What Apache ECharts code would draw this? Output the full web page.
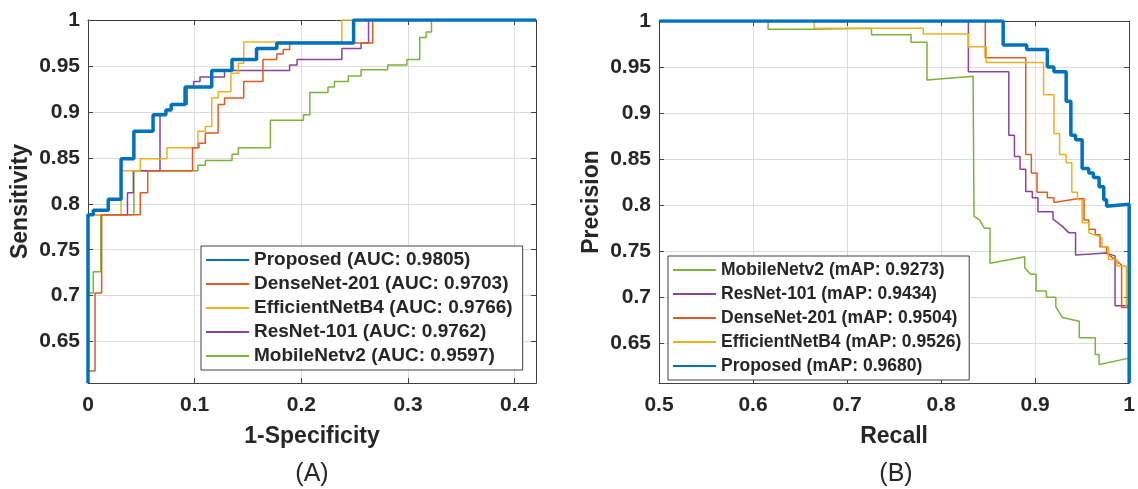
<!DOCTYPE html>
<html>
<head>
<meta charset="UTF-8">
<title>ROC / PR curves</title>
<script src="https://cdn.jsdelivr.net/npm/echarts@6/dist/echarts.min.js"></script>
<style>
  html, body { margin: 0; padding: 0; background: #fff; }
  #main { width: 1138px; height: 489px; }
</style>
</head>
<body>
<div id="main"></div>
<script>
// (A) ROC curves: 1-Specificity / Sensitivity, step corners
var rocXTicks = [0, 0.1, 0.2, 0.3, 0.4];
var rocYTicks = [0.65, 0.7, 0.75, 0.8, 0.85, 0.9, 0.95, 1];

var propFpr  = [0, 0, 0.005, 0.019, 0.031, 0.043, 0.061, 0.073, 0.078, 0.091, 0.116, 0.135, 0.158, 0.177, 0.249, 0.42];
var propTpr  = [0.605, 0.788, 0.793, 0.805, 0.849, 0.879, 0.897, 0.902, 0.908, 0.927, 0.945, 0.957, 0.969, 0.975, 1, 1];

var denseFpr = [0, 0, 0.0066, 0.0128, 0.049, 0.056, 0.098, 0.104, 0.110, 0.122, 0.128, 0.146, 0.164, 0.177, 0.183, 0.189, 0.267, 0.42];
var denseTpr = [0.605, 0.618, 0.703, 0.788, 0.812, 0.836, 0.861, 0.866, 0.877, 0.908, 0.915, 0.933, 0.957, 0.963, 0.968, 0.975, 1, 1];

var effFpr   = [0, 0, 0.031, 0.049, 0.074, 0.103, 0.110, 0.116, 0.122, 0.134, 0.141, 0.146, 0.238, 0.42];
var effTpr   = [0.605, 0.788, 0.836, 0.849, 0.861, 0.879, 0.884, 0.915, 0.922, 0.942, 0.953, 0.976, 1, 1];

var resFpr   = [0, 0, 0.037, 0.0425, 0.0675, 0.073, 0.078, 0.093, 0.099, 0.105, 0.128, 0.189, 0.196, 0.238, 0.256, 0.263, 0.42];
var resTpr   = [0.605, 0.788, 0.812, 0.836, 0.897, 0.902, 0.908, 0.927, 0.933, 0.938, 0.945, 0.951, 0.957, 0.969, 0.975, 1, 1];

var mobFpr   = [0, 0, 0.005, 0.012, 0.043, 0.103, 0.110, 0.135, 0.141, 0.171, 0.202, 0.208, 0.225, 0.231, 0.244, 0.256, 0.281, 0.299, 0.311, 0.317, 0.322, 0.42];
var mobTpr   = [0.605, 0.703, 0.726, 0.788, 0.836, 0.842, 0.847, 0.854, 0.861, 0.891, 0.897, 0.921, 0.927, 0.933, 0.939, 0.946, 0.951, 0.957, 0.981, 0.987, 1, 1];

// (B) PR curves: Recall / Precision, vertices
var prXTicks = [0.5, 0.6, 0.7, 0.8, 0.9, 1];
var prYTicks = [0.65, 0.7, 0.75, 0.8, 0.85, 0.9, 0.95, 1];

var mobRecall = [0.5, 0.616, 0.616, 0.665, 0.665, 0.726, 0.726, 0.768, 0.768, 0.785, 0.785, 0.834, 0.835, 0.841, 0.846, 0.852, 0.852, 0.889, 0.889, 0.895, 0.901, 0.901, 0.912, 0.912, 0.922, 0.922, 0.929, 0.947, 0.947, 0.964, 0.964, 0.968, 0.968, 1];
var mobPrec   = [1, 1, 0.991, 0.991, 0.992, 0.992, 0.985, 0.985, 0.977, 0.977, 0.936, 0.940, 0.788, 0.784, 0.775, 0.775, 0.737, 0.744, 0.732, 0.725, 0.725, 0.707, 0.707, 0.700, 0.700, 0.690, 0.678, 0.674, 0.656, 0.656, 0.638, 0.638, 0.627, 0.634];

var resRecall = [0.5, 0.829, 0.829, 0.872, 0.872, 0.878, 0.878, 0.884, 0.884, 0.890, 0.890, 0.897, 0.897, 0.903, 0.903, 0.919, 0.919, 0.929, 0.936, 0.943, 0.943, 0.975, 0.985, 0.985, 0.999];
var resPrec   = [1, 1, 0.945, 0.945, 0.876, 0.876, 0.853, 0.853, 0.839, 0.839, 0.815, 0.815, 0.808, 0.808, 0.793, 0.793, 0.785, 0.777, 0.770, 0.770, 0.746, 0.748, 0.745, 0.691, 0.691];

var denseRecall = [0.5, 0.847, 0.847, 0.890, 0.890, 0.896, 0.896, 0.902, 0.902, 0.913, 0.913, 0.920, 0.920, 0.945, 0.952, 0.952, 0.957, 0.957, 0.964, 0.964, 0.969, 0.969, 0.976, 0.976, 0.992, 0.992, 1];
var densePrec   = [1, 1, 0.960, 0.960, 0.855, 0.855, 0.835, 0.835, 0.814, 0.814, 0.808, 0.808, 0.803, 0.807, 0.807, 0.784, 0.784, 0.774, 0.774, 0.768, 0.768, 0.755, 0.755, 0.748, 0.735, 0.689, 0.689];

var effRecall = [0.5, 0.665, 0.665, 0.781, 0.781, 0.829, 0.829, 0.848, 0.848, 0.909, 0.909, 0.920, 0.920, 0.926, 0.926, 0.933, 0.933, 0.939, 0.939, 0.945, 0.945, 0.950, 0.950, 0.957, 0.957, 0.971, 0.971, 0.978, 0.978, 0.987, 0.987, 0.997, 0.997];
var effPrec   = [1, 1, 0.992, 0.992, 0.986, 0.986, 0.972, 0.972, 0.955, 0.955, 0.920, 0.920, 0.878, 0.878, 0.855, 0.855, 0.846, 0.846, 0.814, 0.814, 0.806, 0.806, 0.781, 0.781, 0.770, 0.765, 0.755, 0.755, 0.741, 0.741, 0.734, 0.734, 0.690];

var propRecall = [0.5, 0.866, 0.866, 0.891, 0.891, 0.913, 0.913, 0.920, 0.920, 0.933, 0.933, 0.938, 0.938, 0.943, 0.943, 0.950, 0.950, 0.957, 0.957, 0.962, 0.962, 0.968, 0.968, 0.973, 0.973, 0.976, 0.976, 1, 1];
var propPrec   = [1, 1, 0.974, 0.974, 0.969, 0.969, 0.950, 0.950, 0.945, 0.945, 0.913, 0.913, 0.876, 0.876, 0.871, 0.871, 0.840, 0.840, 0.835, 0.835, 0.830, 0.830, 0.820, 0.820, 0.806, 0.806, 0.799, 0.801, 0.607];

var rocNames = ['Proposed (AUC: 0.9805)', 'DenseNet-201 (AUC: 0.9703)', 'EfficientNetB4 (AUC: 0.9766)', 'ResNet-101 (AUC: 0.9762)', 'MobileNetv2 (AUC: 0.9597)'];
var prNames  = ['MobileNetv2 (mAP: 0.9273)', 'ResNet-101 (mAP: 0.9434)', 'DenseNet-201 (mAP: 0.9504)', 'EfficientNetB4 (mAP: 0.9526)', 'Proposed (mAP: 0.9680)'];

var cBlue = '#0072BD', cOrange = '#DE5B23', cYellow = '#EDB120', cPurple = '#8A42A0', cGreen = '#7DB23A';
var FONT = '"Liberation Sans", Arial, sans-serif';
var INK = '#262626';

function pairs(xs, ys) {
  return xs.map(function (x, i) { return [x, ys[i]]; });
}

function xAx(gi, min, max, ticks, name, bottom) {
  return {
    type: 'value', gridIndex: gi, min: min, max: max,
    position: bottom ? 'bottom' : 'top',
    name: bottom ? name : '', nameLocation: 'middle', nameGap: 42,
    nameTextStyle: { fontFamily: FONT, fontSize: 23, fontWeight: 'bold', color: INK },
    axisLine: { show: true, onZero: false, lineStyle: { color: '#404040', width: 1 } },
    axisTick: { show: true, inside: true, length: 5, customValues: ticks, lineStyle: { color: '#404040' } },
    axisLabel: { show: bottom, customValues: ticks, margin: 12, fontFamily: FONT, fontSize: 21, fontWeight: 'bold', color: INK,
      formatter: function (v) { return String(+v.toFixed(2)); } },
    splitLine: { show: bottom, lineStyle: { color: '#dcdcdc', width: 1 } }
  };
}

function yAx(gi, min, max, ticks, name, left) {
  return {
    type: 'value', gridIndex: gi, min: min, max: max,
    position: left ? 'left' : 'right',
    name: left ? name : '', nameLocation: 'middle', nameGap: 56,
    nameTextStyle: { fontFamily: FONT, fontSize: 23, fontWeight: 'bold', color: INK },
    axisLine: { show: true, onZero: false, lineStyle: { color: '#404040', width: 1 } },
    axisTick: { show: true, inside: true, length: 5, customValues: ticks, lineStyle: { color: '#404040' } },
    axisLabel: { show: left, customValues: ticks, margin: 8, fontFamily: FONT, fontSize: 21, fontWeight: 'bold', color: INK,
      formatter: function (v) { return String(+v.toFixed(2)); } },
    splitLine: { show: left, lineStyle: { color: '#dcdcdc', width: 1 } }
  };
}

function line(name, xi, data, color, width, step, z) {
  return {
    name: name, type: 'line', xAxisIndex: xi, yAxisIndex: xi,
    data: data, step: step, symbol: 'none', showSymbol: false,
    lineStyle: { color: color, width: width }, itemStyle: { color: color },
    z: z, animation: false, clip: true
  };
}

function legendBox(left, top, names, fontSize, padRight) {
  return {
    orient: 'vertical', left: left, top: top, data: names,
    itemWidth: 43, itemHeight: 14, itemGap: 4,
    padding: [4, padRight, 4, 4],
    borderColor: '#404040', borderWidth: 1, backgroundColor: '#fff',
    itemStyle: { opacity: 0 },
    textStyle: { fontFamily: FONT, fontSize: fontSize, fontWeight: 'bold', color: INK, lineHeight: 20 },
    selectedMode: false
  };
}

var chart = echarts.init(document.getElementById('main'));
chart.setOption({
  backgroundColor: '#fff',
  animation: false,
  grid: [
    { left: 88, top: 20, width: 448, height: 363 },
    { left: 659, top: 21, width: 475, height: 362 }
  ],
  xAxis: [
    xAx(0, 0, 0.42, rocXTicks, '1-Specificity', true),
    xAx(0, 0, 0.42, rocXTicks, '', false),
    xAx(1, 0.5, 1, prXTicks, 'Recall', true),
    xAx(1, 0.5, 1, prXTicks, '', false)
  ],
  yAxis: [
    yAx(0, 0.605, 1, rocYTicks, 'Sensitivity', true),
    yAx(0, 0.605, 1, rocYTicks, '', false),
    yAx(1, 0.607, 1, prYTicks, 'Precision', true),
    yAx(1, 0.607, 1, prYTicks, '', false)
  ],
  legend: [
    legendBox(201, 246, rocNames, 19, 10),
    legendBox(668, 256, prNames, 17.5, 8)
  ],
  graphic: [
    { type: 'text', x: 312, y: 474, style: { text: '(A)', align: 'center', verticalAlign: 'middle', font: '25px ' + FONT, fill: INK } },
    { type: 'text', x: 896, y: 474, style: { text: '(B)', align: 'center', verticalAlign: 'middle', font: '25px ' + FONT, fill: INK } }
  ],
  series: [
    line(rocNames[4], 0, pairs(mobFpr, mobTpr), cGreen, 1.5, 'end', 2),
    line(rocNames[3], 0, pairs(resFpr, resTpr), cPurple, 1.5, 'end', 3),
    line(rocNames[2], 0, pairs(effFpr, effTpr), cYellow, 1.5, 'end', 4),
    line(rocNames[1], 0, pairs(denseFpr, denseTpr), cOrange, 1.5, 'end', 5),
    line(rocNames[0], 0, pairs(propFpr, propTpr), cBlue, 3.5, 'end', 6),

    line(prNames[0], 2, pairs(mobRecall, mobPrec), cGreen, 1.5, false, 2),
    line(prNames[1], 2, pairs(resRecall, resPrec), cPurple, 1.5, false, 3),
    line(prNames[2], 2, pairs(denseRecall, densePrec), cOrange, 1.5, false, 4),
    line(prNames[3], 2, pairs(effRecall, effPrec), cYellow, 1.5, false, 5),
    line(prNames[4], 2, pairs(propRecall, propPrec), cBlue, 3.5, false, 6)
  ]
});
</script>
</body>
</html>
